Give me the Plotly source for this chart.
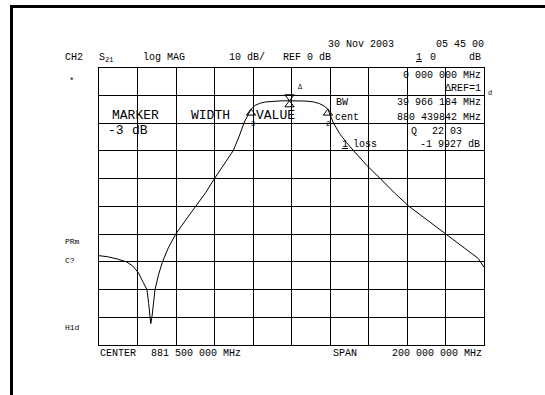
import plotly.graph_objects as go

# ---- sweep data: S21 log magnitude of a band-pass filter ----
freq_mhz = [781.5, 786, 791, 795.7, 799, 802, 804.5, 806.4, 807.3, 807.9, 808.4,
            809.0, 809.8, 810.6, 812.5, 814.5, 817.5, 821.4, 826.5, 831.8, 837,
            841.5, 846.5, 851.2, 854.2, 856.8, 858.8, 860.5, 862.5, 865, 868,
            872, 876, 880.4, 885, 889, 893, 896, 898.5, 900.4, 901.8, 903.3,
            906.5, 910, 913.8, 920.5, 927.6, 935, 942.5, 952, 961.5, 969, 975,
            978.5, 979.6, 981.5]
s21_db = [-57.8, -58.2, -59.0, -60.0, -61.5, -64.0, -67.5, -70.0, -75.0, -80.0, -82.3,
          -80.0, -75.0, -70.0, -64.5, -60.0, -55.0, -50.0, -45.0, -40.0, -35.0,
          -30.0, -25.0, -20.0, -15.0, -10.0, -7.2, -5.0, -3.7, -2.9, -2.4,
          -2.15, -2.03, -1.99, -2.0, -2.1, -2.4, -3.0, -3.9, -5.0, -7.5, -10.0,
          -13.8, -17.0, -20.0, -25.2, -30.0, -35.2, -40.0, -45.0, -50.0, -53.8, -57.0,
          -58.8, -60.0, -62.0]

# markers: 1 = centre, 2 = upper -3 dB edge, 3 = lower -3 dB edge
marker_freq = [880.44, 900.42, 860.46]
marker_db = [-1.99, -4.99, -4.99]
marker_lbl = ["1", "2", "3"]

center_mhz = 881.5
span_mhz = 200.0
ref_db = 0.0
scale_db = 10.0

W, H = 545, 395
GX0, GX1, GY0, GY1 = 99, 484, 67.5, 345  # graticule box in pixels


def px(x):
    return x / W


def py(y):
    return 1 - y / H


fig = go.Figure()

fig.add_trace(go.Scatter(x=freq_mhz, y=s21_db, mode="lines",
                         line=dict(color="black", width=1), hoverinfo="skip"))

# marker triangles placed just above / below the trace point
db_per_px = 10 * scale_db / (GY1 - GY0)
tri = 8
fig.add_trace(go.Scatter(
    x=[marker_freq[0]], y=[marker_db[0] + tri / 2 * db_per_px],
    mode="markers", marker=dict(symbol="triangle-down-open", size=tri,
                                color="black", line=dict(width=1)),
    hoverinfo="skip"))
fig.add_trace(go.Scatter(
    x=marker_freq, y=[d - tri / 2 * db_per_px for d in marker_db],
    mode="markers", marker=dict(symbol="triangle-up-open", size=tri,
                                color="black", line=dict(width=1)),
    hoverinfo="skip"))

fmin = center_mhz - span_mhz / 2
fmax = center_mhz + span_mhz / 2
ytop = ref_db + 1 * scale_db
ybot = ytop - 10 * scale_db

grid = dict(showgrid=True, gridcolor="black", gridwidth=1.3, zeroline=False,
            showticklabels=False, ticks="", showline=True, mirror=True,
            linecolor="black", linewidth=1.3, fixedrange=True)

fig.update_layout(
    width=W, height=H, margin=dict(l=0, r=0, t=0, b=0, pad=0),
    paper_bgcolor="white", plot_bgcolor="white", showlegend=False,
    xaxis=dict(domain=[px(GX0), px(GX1)], range=[fmin, fmax],
               dtick=span_mhz / 10, tick0=fmin, **grid),
    yaxis=dict(domain=[py(GY1), py(GY0)], range=[ybot, ytop],
               dtick=scale_db, tick0=0, **grid),
)

# outer frame (top and left edges)
fig.add_shape(type="line", xref="paper", yref="paper",
              x0=px(10), x1=1, y0=py(6.5), y1=py(6.5),
              line=dict(color="black", width=3))
fig.add_shape(type="line", xref="paper", yref="paper",
              x0=px(11.5), x1=px(11.5), y0=py(5), y1=0,
              line=dict(color="black", width=3))

MONO = "Liberation Mono, DejaVu Sans Mono, monospace"


def label(text, x, y, size=10, anchor="left"):
    fig.add_annotation(text=text, x=px(x), y=py(y), xref="paper", yref="paper",
                       xanchor=anchor, yanchor="middle", showarrow=False,
                       font=dict(family=MONO, size=size, color="black"))


# header
label("30 Nov 2003", 326, 45)
label("05 45 00", 486, 45, anchor="right")
label("CH2", 63, 57)
label("S<sub>21</sub>", 97, 58)
label("log MAG", 141, 57)
label("10 dB/", 227, 57)
label("REF 0 dB", 281, 57)
label("<u>1</u>", 414, 57)
label("0", 428, 57)
label("dB", 483, 57, anchor="right")

# marker read-out inside graticule
label("0 000 000 MHz", 483, 75, anchor="right")
label("\u0394REF=1", 483, 89, anchor="right")
label("d", 486, 93, size=7)
label("BW", 334, 102)
label("39 966 184 MHz", 483, 102, anchor="right")
label("cent", 333, 117)
label("880 439842 MHz", 483, 117, anchor="right")
label("Q", 409, 131)
label("22 03", 464, 131, anchor="right")
label("<u>1</u>", 340, 145)
label("loss", 351, 145)
label("-1 9927 dB", 482, 145, anchor="right")

# large marker-function caption
label("MARKER", 135.5, 115, size=13, anchor="center")
label("WIDTH", 210.5, 115, size=13, anchor="center")
label("VALUE", 275, 115, size=13, anchor="center")
label("-3", 116, 130, size=13, anchor="center")
label("dB", 140, 130, size=13, anchor="center")

# marker annotations
label("\u0394", 296, 87, size=7)
label(marker_lbl[2], 249, 124, size=7)
label(marker_lbl[1], 324, 124, size=7)

# softkey/status column
label("*", 67, 82, size=9)
label("PRm", 63, 241, size=8)
label("C?", 63, 260, size=8)
label("H1d", 63, 327, size=8)

# footer
label("CENTER", 98, 353)
label("881 500 000 MHz", 149, 353)
label("SPAN", 331, 353)
label("200 000 000 MHz", 484, 353, anchor="right")

fig.write_html("out.html")
